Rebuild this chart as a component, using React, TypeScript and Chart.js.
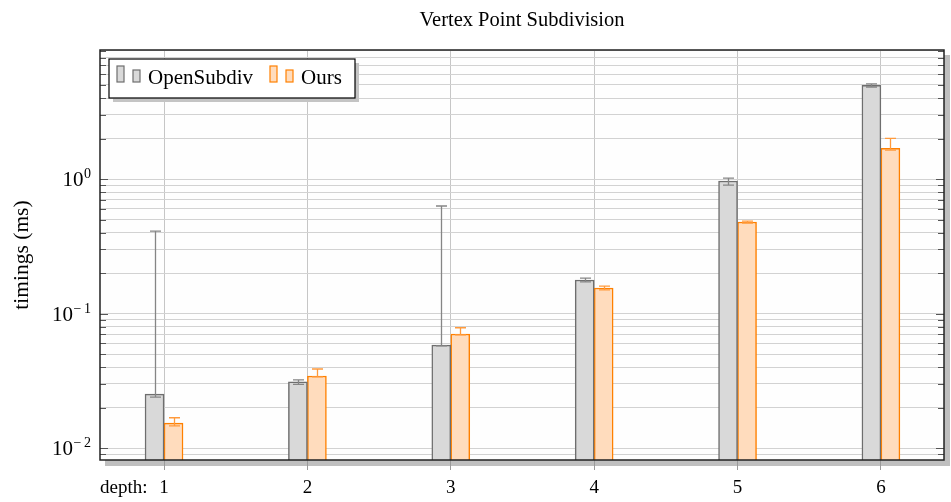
import React, { useEffect, useRef } from 'react';
import { Chart, registerables } from 'chart.js';

Chart.register(...registerables);

const titleText = 'Vertex Point Subdivision';
const yAxisTitle = 'timings (ms)';
const xAxisPrefix = 'depth:';
const depths = [1, 2, 3, 4, 5, 6];
const seriesNames = ['OpenSubdiv', 'Ours'];
const openSubdivTimes = [0.0252, 0.031, 0.0583, 0.1775, 0.966, 4.97];
const openSubdivErrLow = [0.0239, 0.0297, 0.0574, 0.172, 0.902, 4.83];
const openSubdivErrHigh = [0.41, 0.0321, 0.63, 0.183, 1.017, 5.09];
const oursTimes = [0.0153, 0.0343, 0.0704, 0.1548, 0.479, 1.69];
const oursErrLow = [0.0146, 0.0338, 0.0693, 0.15, 0.471, 1.64];
const oursErrHigh = [0.0168, 0.0387, 0.0784, 0.16, 0.487, 2.007];
const yLabelValues = [0.01, 0.1, 1];
const yLabelBases = ['10', '10', '10'];
const yLabelSigns = ['\u2212', '\u2212', ''];
const yLabelDigits = ['2', '1', '0'];

const SERIF = '"Liberation Serif", "Times New Roman", Times, serif';
const GREY_FILL = '#d9d9d9';
const GREY_LINE = '#6e6e6e';
const GREY_ERR = '#858585';
const ORANGE_FILL = '#ffdcbd';
const ORANGE_LINE = '#ff8000';
const ORANGE_ERR = '#ff9a3c';

const errLows = [openSubdivErrLow, oursErrLow];
const errHighs = [openSubdivErrHigh, oursErrHigh];
const errColors = [GREY_ERR, ORANGE_ERR];

const decorPlugin = {
  id: 'decor',
  beforeDraw(chart: any) {
    const { ctx, chartArea: a } = chart;
    ctx.save();
    ctx.fillStyle = '#bfbfbf';
    ctx.fillRect(a.left + 5, a.top + 5, a.right - a.left + 1, a.bottom - a.top + 1);
    ctx.fillStyle = '#fefefe';
    ctx.fillRect(a.left, a.top, a.right - a.left, a.bottom - a.top);
    ctx.restore();
  },
  afterDatasetsDraw(chart: any) {
    const { ctx } = chart;
    const ys = chart.scales.y;
    ctx.save();
    ctx.lineWidth = 1.3;
    for (let di = 0; di < 2; di++) {
      const meta = chart.getDatasetMeta(di);
      ctx.strokeStyle = errColors[di];
      meta.data.forEach((bar: any, j: number) => {
        const cx = Math.round(bar.x) + 0.5;
        const yl = ys.getPixelForValue(errLows[di][j]);
        const yh = ys.getPixelForValue(errHighs[di][j]);
        const hw = 5.5;
        ctx.beginPath();
        ctx.moveTo(cx, yl);
        ctx.lineTo(cx, yh);
        ctx.moveTo(cx - hw, yh);
        ctx.lineTo(cx + hw, yh);
        ctx.moveTo(cx - hw, yl);
        ctx.lineTo(cx + hw, yl);
        ctx.stroke();
      });
    }
    ctx.restore();
  },
  afterDraw(chart: any) {
    const { ctx, chartArea: a } = chart;
    const ys = chart.scales.y;
    const xs = chart.scales.x;
    ctx.save();
    // inner tick marks
    ctx.strokeStyle = '#555555';
    ctx.lineWidth = 1;
    ys.ticks.forEach((t: any) => {
      const py = Math.round(ys.getPixelForValue(t.value)) + 0.5;
      const len = t.major ? 8 : 6;
      ctx.beginPath();
      ctx.moveTo(a.left, py);
      ctx.lineTo(a.left + len, py);
      ctx.moveTo(a.right - len, py);
      ctx.lineTo(a.right, py);
      ctx.stroke();
    });
    // frame
    ctx.strokeStyle = '#222222';
    ctx.lineWidth = 1.5;
    ctx.strokeRect(a.left, a.top, a.right - a.left, a.bottom - a.top);

    ctx.fillStyle = '#000000';
    // title
    ctx.font = `20.5px ${SERIF}`;
    ctx.textAlign = 'center';
    ctx.textBaseline = 'alphabetic';
    ctx.fillText(titleText, (a.left + a.right) / 2, 26);

    // y title
    ctx.save();
    ctx.translate(22, (a.top + a.bottom) / 2);
    ctx.rotate(-Math.PI / 2);
    ctx.textAlign = 'center';
    ctx.textBaseline = 'middle';
    ctx.font = `21.5px ${SERIF}`;
    ctx.fillText(yAxisTitle, 0, 0);
    ctx.restore();

    // y labels with superscripts
    ctx.textAlign = 'left';
    ctx.textBaseline = 'alphabetic';
    yLabelValues.forEach((v, i) => {
      const py = ys.getPixelForValue(v);
      const right = a.left - 9;
      ctx.font = `14px ${SERIF}`;
      const dw = ctx.measureText(yLabelDigits[i]).width;
      let cur = right - dw;
      ctx.fillText(yLabelDigits[i], cur, py - 1);
      if (yLabelSigns[i]) {
        const sw = ctx.measureText(yLabelSigns[i]).width;
        cur -= sw + 2.5;
        ctx.fillText(yLabelSigns[i], cur, py - 1);
      }
      ctx.font = `21px ${SERIF}`;
      const bw = ctx.measureText(yLabelBases[i]).width;
      ctx.fillText(yLabelBases[i], cur - bw - 0.5, py + 7);
    });

    // x labels
    ctx.font = `19px ${SERIF}`;
    ctx.textAlign = 'center';
    ctx.textBaseline = 'alphabetic';
    depths.forEach((d) => {
      ctx.fillText(String(d), xs.getPixelForValue(d), 493);
    });
    ctx.textAlign = 'left';
    ctx.fillText(xAxisPrefix, a.left, 493);

    // legend
    const lx = 109, ly = 59, lw = 246, lh = 39;
    ctx.fillStyle = '#c4c4c4';
    ctx.fillRect(lx + 4, ly + 4, lw, lh);
    ctx.fillStyle = '#ffffff';
    ctx.fillRect(lx, ly, lw, lh);
    ctx.strokeStyle = '#000000';
    ctx.lineWidth = 1.2;
    ctx.strokeRect(lx, ly, lw, lh);
    const entries = [
      { x: 117, fill: GREY_FILL, line: GREY_LINE, label: seriesNames[0] },
      { x: 270, fill: ORANGE_FILL, line: ORANGE_LINE, label: seriesNames[1] },
    ];
    entries.forEach((e) => {
      ctx.fillStyle = e.fill;
      ctx.strokeStyle = e.line;
      ctx.lineWidth = 1.2;
      ctx.fillRect(e.x, 66, 7, 16);
      ctx.strokeRect(e.x, 66, 7, 16);
      ctx.fillRect(e.x + 16, 70, 7, 12);
      ctx.strokeRect(e.x + 16, 70, 7, 12);
      ctx.fillStyle = '#000000';
      ctx.font = `21px ${SERIF}`;
      ctx.textAlign = 'left';
      ctx.textBaseline = 'alphabetic';
      ctx.fillText(e.label, e.x + 31, 84);
    });
    ctx.restore();
  },
};

export default function App() {
  const ref = useRef<HTMLCanvasElement | null>(null);
  useEffect(() => {
    document.body.style.margin = '0';
    const canvas = ref.current;
    if (!canvas) return;
    const chart = new Chart(canvas, {
      type: 'bar',
      data: {
        datasets: [
          {
            label: seriesNames[0],
            data: depths.map((d, i) => ({ x: d, y: openSubdivTimes[i] })),
            backgroundColor: GREY_FILL,
            borderColor: GREY_LINE,
            borderWidth: 1.5,
            barThickness: 19,
          },
          {
            label: seriesNames[1],
            data: depths.map((d, i) => ({ x: d, y: oursTimes[i] })),
            backgroundColor: ORANGE_FILL,
            borderColor: ORANGE_LINE,
            borderWidth: 1.5,
            barThickness: 19,
          },
        ],
      },
      options: {
        animation: false,
        responsive: false,
        events: [],
        layout: { padding: { top: 50, right: 7, left: 0, bottom: 0 } },
        plugins: {
          legend: { display: false },
          title: { display: false },
          tooltip: { enabled: false },
        },
        scales: {
          x: {
            type: 'linear',
            min: 0.5534,
            max: 6.44,
            offset: false,
            afterBuildTicks: (s: any) => {
              s.ticks = depths.map((d) => ({ value: d }));
            },
            afterFit: (s: any) => {
              s.height = 42;
            },
            ticks: { display: false },
            border: { display: false },
            grid: {
              offset: false,
              color: '#c6c6c6',
              lineWidth: 1,
              drawTicks: true,
              tickLength: 10,
              tickColor: '#9a9a9a',
            },
          },
          y: {
            type: 'logarithmic',
            min: 0.00815,
            max: 9.1,
            afterBuildTicks: (s: any) => {
              const t: any[] = [];
              for (let d = -3; d <= 1; d++) {
                for (let m = 1; m <= 9; m++) {
                  const v = m * Math.pow(10, d);
                  if (v >= s.min && v <= s.max) t.push({ value: v, major: m === 1 });
                }
              }
              s.ticks = t;
            },
            afterFit: (s: any) => {
              s.width = 100;
            },
            ticks: { display: false },
            border: { display: false },
            grid: {
              color: '#d2d2d2',
              lineWidth: 1,
              drawTicks: false,
            },
          },
        },
      } as any,
      plugins: [decorPlugin],
    });
    return () => chart.destroy();
  }, []);
  return (
    <div style={{ position: 'absolute', left: 0, top: 0, width: 951, height: 502 }}>
      <canvas ref={ref} width={951} height={502} style={{ display: 'block', width: 951, height: 502 }} />
    </div>
  );
}
